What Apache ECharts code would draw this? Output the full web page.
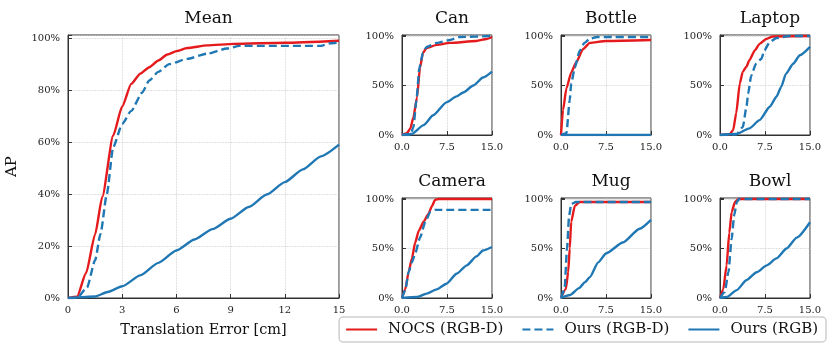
<!DOCTYPE html>
<html>
<head>
<meta charset="utf-8">
<script src="https://cdn.jsdelivr.net/npm/echarts@6/dist/echarts.min.js"></script>
<style>
  html, body { margin: 0; padding: 0; background: #fff; }
  #chart { width: 830px; height: 346px; }
</style>
</head>
<body>
<div id="chart"></div>
<script>
// series names
const names = ['NOCS (RGB-D)', 'Ours (RGB-D)', 'Ours (RGB)'];

// [translation error cm, AP %]
const meanNocs = [[0,0],[0.5,0.5],[1,9.6],[1.5,24.5],[1.9,39],[2.5,62.5],[3,73.7],[3.5,82.4],[4,86.3],[4.5,88.8],[5,91.4],[5.5,93.7],[6,95],[6.6,96.2],[7.7,97.2],[9.2,97.8],[12,98.2],[15,99]];
const meanOursD = [[0,0],[0.5,0],[1.05,4],[1.5,14.5],[1.8,24.7],[2.15,40],[2.5,58],[3,67],[3.5,72],[4.1,79],[4.5,83.7],[5,87],[5.6,90],[6.6,92],[7.7,94],[8.8,96],[9.5,97],[14,97],[14.5,98],[15,98.3]];
const meanOurs = [[0,0],[1.5,0.6],[2.2,2.3],[3,4.5],[4,8.7],[5,13.5],[6,18.3],[7,22.5],[8,26.5],[9,30.5],[10,35],[11,39.8],[12,44.6],[13,49.5],[14,54.5],[15,59]];

const canNocs = [[0,0],[0.8,1.7],[1.4,6.7],[1.9,18],[2.5,38],[3,68],[3.5,83],[4.1,88],[5.8,91],[8,93],[12.4,95],[14.1,97],[15,99]];
const canOursD = [[0,0],[1.4,0],[1.9,8],[2.4,35],[2.9,68],[3.5,83],[4.1,89],[5.8,93],[8,96],[9.6,99],[15,100]];
const canOurs = [[0,0],[1.6,1],[3.6,10],[5.2,20],[7.4,33],[9.1,39],[10.2,43],[11.9,50],[13.5,58],[15,64]];

const bottleNocs = [[0,0],[0.33,25],[0.9,47],[1.7,63],[2.5,73],[3.7,87],[4.8,93],[7.5,95],[15,96]];
const bottleOursD = [[0,0],[0.9,1.7],[1.45,35],[1.7,52],[2.3,68],[3.1,85],[3.9,93],[4.8,97],[6,99],[15,99]];
const bottleOurs = [[0,0],[15,0]];

const laptopNocs = [[0,0],[1.6,0.7],[2.2,5],[2.7,22],[3.3,52],[3.8,64],[4.4,69],[4.9,75.5],[5.8,85.5],[6.6,92],[7.7,97],[8.8,99.5],[15,100]];
const laptopOursD = [[0,0],[2.7,0.5],[3.8,8],[4.4,28],[4.7,42],[5.2,60],[6,72],[6.9,77],[7.4,85.5],[8.3,94],[9.4,98],[11.6,100],[15,100]];
const laptopOurs = [[0,0],[2.7,1],[4.9,6.7],[6.6,15],[8.3,28.5],[9.4,38.6],[10.2,48.6],[11,62],[12.2,72],[13.3,80.5],[15,89]];

const cameraNocs = [[0,0],[0.55,9],[1.1,26],[1.65,40],[2.2,56],[2.8,68],[3.6,77],[4.4,85],[5,93],[5.5,99],[6.1,100],[15,100]];
const cameraOursD = [[0,0],[0.55,8],[1.1,26],[1.65,36],[2.2,45],[3,61],[3.9,77],[4.7,87],[5.5,89],[15,89]];
const cameraOurs = [[0,0],[2.5,1],[4.1,4.4],[5.8,8.7],[7.4,14.4],[9.1,24.5],[10.8,33],[12.4,42],[13.5,48],[15,51.5]];

const mugNocs = [[0,0],[0.8,9],[1.2,26],[1.45,50],[1.7,77],[2.3,93],[3.1,97],[15,97]];
const mugOursD = [[0,0],[0.6,9],[1,50],[1.35,83],[1.7,95],[2.5,97],[15,97]];
const mugOurs = [[0,0],[1.5,3],[3,10],[4,16],[4.8,21],[6.2,36],[7.5,45],[10.3,56],[13.1,70],[15,79]];

const bowlNocs = [[0,0],[0.55,9],[1.1,33],[1.55,66],[1.95,87],[2.5,97],[3.05,100],[15,100]];
const bowlOursD = [[0,0],[0.8,6],[1.4,26],[1.95,60],[2.35,83],[2.8,97],[3.2,100],[15,100]];
const bowlOurs = [[0,0],[1.1,1],[2.8,8],[4.4,18],[6.1,26],[7.8,33],[9.4,40],[11.1,50],[12.8,61],[15,76.5]];

// tick steps
const meanXStep = 3, meanYStep = 20;
const smallXStep = 7.5, smallYStep = 50;

const panels = [
  { title: 'Mean', box: [68, 35, 271, 263], data: [meanNocs, meanOursD, meanOurs], big: true },
  { title: 'Can', box: [402, 35, 90, 100], data: [canNocs, canOursD, canOurs] },
  { title: 'Bottle', box: [561, 35, 90, 100], data: [bottleNocs, bottleOursD, bottleOurs] },
  { title: 'Laptop', box: [720, 35, 90, 100], data: [laptopNocs, laptopOursD, laptopOurs] },
  { title: 'Camera', box: [402, 198, 90, 100], data: [cameraNocs, cameraOursD, cameraOurs] },
  { title: 'Mug', box: [561, 198, 90, 100], data: [mugNocs, mugOursD, mugOurs] },
  { title: 'Bowl', box: [720, 198, 90, 100], data: [bowlNocs, bowlOursD, bowlOurs] },
];

const FONT = 'DejaVu Serif';
const RED = '#e41a1c';
const BLUE = '#1f77b4';
const FRAME = '#333';

const lineStyles = [
  { color: RED, width: 2.4, type: 'solid' },
  { color: BLUE, width: 2.4, type: [8, 4] },
  { color: BLUE, width: 2.4, type: 'solid' },
];

const grid = [], xAxis = [], yAxis = [], series = [], title = [];

panels.forEach((p, i) => {
  const [l, t, w, h] = p.box;
  grid.push({ left: l, top: t, width: w, height: h, show: true, borderColor: FRAME, borderWidth: 1, containLabel: false });
  title.push({
    text: p.title, left: l + w / 2, top: t - 30, textAlign: 'center',
    textStyle: { fontFamily: FONT, fontSize: 17, fontWeight: 'normal', color: '#111' },
  });
  const xs = p.big ? meanXStep : smallXStep;
  const ys = p.big ? meanYStep : smallYStep;
  xAxis.push({
    gridIndex: i, type: 'value', min: 0, max: 15, interval: xs,
    name: p.big ? 'Translation Error [cm]' : '', nameLocation: 'middle', nameGap: 25,
    nameTextStyle: { fontFamily: FONT, fontSize: 14.5, color: '#111' },
    axisLine: { show: true, onZero: false, lineStyle: { color: FRAME, width: 1 } },
    axisTick: { show: true, inside: true, length: 4, lineStyle: { color: FRAME } },
    axisLabel: {
      margin: 7, fontFamily: FONT, fontSize: 10, color: '#222',
      formatter: v => p.big ? String(v) : v.toFixed(1),
    },
    splitLine: { show: true, lineStyle: { color: '#c8c8c8', type: 'dotted', width: 0.8 } },
  });
  yAxis.push({
    gridIndex: i, type: 'value', min: 0, max: p.big ? 101.2 : 101, interval: ys,
    name: p.big ? 'AP' : '', nameLocation: 'middle', nameGap: 48, nameRotate: 90,
    nameTextStyle: { fontFamily: FONT, fontSize: 15, color: '#111' },
    axisLine: { show: true, lineStyle: { color: FRAME, width: 1 } },
    axisTick: { show: true, inside: true, length: 4, lineStyle: { color: FRAME } },
    axisLabel: {
      margin: 8, fontFamily: FONT, fontSize: 10, color: '#222',
      formatter: v => (Math.abs(v % ys) < 1e-6 ? v + '%' : ''),
    },
    splitLine: { show: true, lineStyle: { color: '#c8c8c8', type: 'dotted', width: 0.8 } },
  });
  p.data.forEach((d, k) => {
    series.push({
      name: names[k], type: 'line', xAxisIndex: i, yAxisIndex: i,
      data: d, symbol: 'none', smooth: 0.2, smoothMonotone: 'x',
      lineStyle: lineStyles[k], itemStyle: { color: lineStyles[k].color },
      z: k === 1 ? 4 : 3, animation: false,
    });
  });
});

const chart = echarts.init(document.getElementById('chart'), null, { renderer: 'canvas' });
chart.setOption({
  animation: false,
  title,
  grid, xAxis, yAxis, series,
  legend: {
    data: names, right: 4, top: 317, orient: 'horizontal',
    itemWidth: 31, itemHeight: 10, itemGap: 18,
    padding: [5, 8, 5, 6],
    itemStyle: { opacity: 0 },
    borderColor: '#cfcfcf', borderWidth: 1.5, borderRadius: 4, backgroundColor: '#fff',
    textStyle: { fontFamily: FONT, fontSize: 15, color: '#111', padding: [0, 0, 0, 6] },
  },
});
</script>
</body>
</html>
